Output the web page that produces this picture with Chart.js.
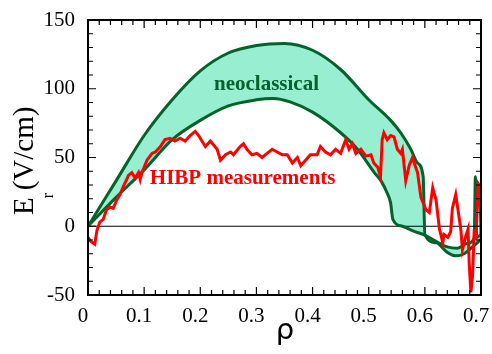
<!DOCTYPE html>
<html>
  <head>
    <title>Er profile</title>
    <style>
      html, body { margin: 0; padding: 0; background: #fff; }
      #wrap { width: 492px; height: 354px; }
    </style>
  </head>
  <body>
    <div id="wrap"><canvas id="erChart" width="492" height="354"></canvas></div>

    <script src="https://cdn.jsdelivr.net/npm/chart.js"></script>
    <script>
      // HIBP measured profile (rho, Er in V/cm)
      const rhoHibp = [
        0, 0.005, 0.012, 0.016, 0.021, 0.027, 0.033, 0.039, 0.045, 0.051,
        0.057, 0.063, 0.069, 0.072, 0.078, 0.084, 0.09, 0.093, 0.096, 0.105,
        0.114, 0.12, 0.129, 0.137, 0.146, 0.155, 0.164, 0.173, 0.182, 0.191,
        0.197, 0.209, 0.218, 0.23, 0.236, 0.245, 0.254, 0.259, 0.271, 0.277,
        0.283, 0.292, 0.301, 0.31, 0.319, 0.328, 0.337, 0.346, 0.355, 0.364,
        0.373, 0.379, 0.3875, 0.396, 0.408, 0.414, 0.423, 0.432, 0.441, 0.45,
        0.459, 0.465, 0.471, 0.477, 0.486, 0.495, 0.504, 0.509, 0.516, 0.521,
        0.524, 0.527, 0.533, 0.539, 0.545, 0.551, 0.557, 0.56, 0.566, 0.572,
        0.578, 0.581, 0.587, 0.593, 0.596, 0.602, 0.608, 0.614, 0.62, 0.626,
        0.632, 0.634, 0.641, 0.646, 0.649, 0.655, 0.659, 0.664, 0.667, 0.673,
        0.677, 0.679, 0.682, 0.685, 0.688, 0.691, 0.695, 0.698, 0.7
      ];
      const erHibp = [
        -8, -11, -13, -3, 3, 5, 12, 14, 13, 19,
        23, 29, 34, 37, 39, 35, 39, 34, 39, 48,
        53, 54, 58, 63, 64, 62, 64, 62, 66, 69,
        66, 58, 62, 56, 48, 52, 54, 52, 58, 60,
        56, 52, 53, 50, 53, 56, 54, 52, 52, 46,
        50, 44, 48, 52, 52, 58, 54, 52, 56, 53,
        63, 56, 60, 53, 56, 51, 52, 46, 43, 36,
        63, 68, 63, 66, 65, 56, 53, 56, 33, 44,
        50, 46, 39, 21, 18, 12, 10, 28, 19, -2,
        -12, -6, -8, -4, 13, 23, 12, -2, -17, -7,
        -2, -27, -48, -36, -2, -10, 31, 29, -7
      ];

      // neoclassical band: outer (upper) and inner (lower) boundaries
      const rhoOuter = [0, 0.05, 0.1, 0.15, 0.2, 0.25, 0.3, 0.35, 0.4, 0.45, 0.5, 0.539, 0.557, 0.575, 0.587, 0.597, 0.6, 0.62, 0.64, 0.655, 0.67, 0.685, 0.7];
      const erOuter = [0, 33, 66, 92, 113, 126, 131.5, 133, 128, 114, 92, 77, 68, 56, 46, 36, -6, -12, -19, -21.5, -20, -15, -9.5];

      const rhoInner = [0, 0.05, 0.1, 0.15, 0.2, 0.25, 0.3, 0.33, 0.36, 0.4, 0.45, 0.48, 0.51, 0.522, 0.533, 0.539, 0.543, 0.56, 0.58, 0.6, 0.62, 0.64, 0.658, 0.675, 0.688, 0.69, 0.692, 0.7];
      const erInner = [0, 21, 41, 63, 77, 87.5, 92, 93, 90.5, 83, 68, 56, 39, 33, 24, 17, 5, 0, -3.5, -6.5, -11, -15, -16, -12.5, -8.5, 36, -8, -6];

      const yTicks = [-50, 0, 50, 100, 150];

      const toPts = (xs, ys) => xs.map((x, i) => ({ x: x, y: ys[i] }));

      const darkGreen = "#05622a";
      const bandFill = "rgb(152, 238, 208)";

      // frame, inward ticks, zero line, annotations, axis titles
      const decor = {
        id: "decor",
        beforeDatasetsDraw(chart) {
          const { ctx, chartArea: a, scales } = chart;
          const y0 = scales.y.getPixelForValue(0);
          ctx.save();
          ctx.strokeStyle = "#000";
          ctx.lineWidth = 1.1;
          ctx.beginPath();
          ctx.moveTo(a.left, y0);
          ctx.lineTo(a.right, y0);
          ctx.stroke();
          ctx.restore();
        },
        afterDatasetsDraw(chart) {
          const { ctx, chartArea: a, scales } = chart;
          const xs = scales.x, ys = scales.y;
          ctx.save();
          ctx.strokeStyle = "#000";
          ctx.lineWidth = 1.2;
          ctx.beginPath();
          // x ticks every 0.02, major every 0.1
          for (let i = 0; i <= 35; i++) {
            const px = xs.getPixelForValue(i * 0.02);
            const len = i % 5 === 0 ? 8 : 5;
            ctx.moveTo(px, a.bottom);
            ctx.lineTo(px, a.bottom - len);
            ctx.moveTo(px, a.top);
            ctx.lineTo(px, a.top + len);
          }
          // y ticks every 10, major every 50
          for (let v = -50; v <= 150; v += 10) {
            const py = ys.getPixelForValue(v);
            const len = v % 50 === 0 ? 8 : 5;
            ctx.moveTo(a.left, py);
            ctx.lineTo(a.left + len, py);
            ctx.moveTo(a.right, py);
            ctx.lineTo(a.right - len, py);
          }
          ctx.stroke();
          ctx.lineWidth = 2;
          ctx.strokeRect(a.left, a.top, a.right - a.left, a.bottom - a.top);

          // annotations
          ctx.font = 'bold 21px "Liberation Serif"';
          ctx.textAlign = "center";
          ctx.textBaseline = "alphabetic";
          ctx.fillStyle = darkGreen;
          ctx.fillText("neoclassical", xs.getPixelForValue(0.318), ys.getPixelForValue(99));
          ctx.fillStyle = "#ff0000";
          ctx.fillText("HIBP measurements", xs.getPixelForValue(0.2755), ys.getPixelForValue(31));

          // x title
          ctx.fillStyle = "#000";
          ctx.font = '29px "DejaVu Sans"';
          ctx.fillText("ρ", 285, 339);

          // y title, rotated, with subscript r
          ctx.translate(33, 215);
          ctx.rotate(-Math.PI / 2);
          ctx.textAlign = "left";
          ctx.font = '29px "Liberation Serif"';
          ctx.fillText("E", 0, 0);
          const wE = ctx.measureText("E").width;
          ctx.fillText("(V/cm)", wE + 7, 0);
          ctx.font = '16px "Liberation Serif"';
          ctx.fillText("r", wE - 1, 20);
          ctx.restore();
        }
      };

      new Chart(document.getElementById("erChart"), {
        type: "line",
        data: {
          datasets: [
            {
              label: "HIBP measurements",
              data: toPts(rhoHibp, erHibp),
              borderColor: "#ff0000",
              borderWidth: 3,
              pointRadius: 0,
              tension: 0,
              fill: false
            },
            {
              label: "neoclassical outer",
              data: toPts(rhoOuter, erOuter),
              borderColor: darkGreen,
              borderWidth: 3,
              pointRadius: 0,
              cubicInterpolationMode: "monotone",
              fill: "+1",
              backgroundColor: bandFill
            },
            {
              label: "neoclassical inner",
              data: toPts(rhoInner, erInner),
              borderColor: darkGreen,
              borderWidth: 3,
              pointRadius: 0,
              cubicInterpolationMode: "monotone",
              fill: false
            }
          ]
        },
        options: {
          responsive: false,
          animation: false,
          events: [],
          layout: { padding: { top: 20, right: 11, left: 0, bottom: 0 } },
          plugins: {
            legend: { display: false },
            tooltip: { enabled: false },
            filler: { drawTime: "beforeDatasetsDraw" }
          },
          scales: {
            x: {
              type: "linear",
              min: 0,
              max: 0.7,
              grid: { display: false, drawTicks: false },
              border: { display: false },
              ticks: {
                stepSize: 0.1,
                padding: 9,
                labelOffset: -5,
                color: "#000",
                font: { family: "Liberation Serif", size: 21 },
                maxRotation: 0
              },
              afterFit(scale) {
                scale.height = 59;
                scale.paddingLeft = 0;
                scale.paddingRight = 0;
              }
            },
            y: {
              min: -50,
              max: 150,
              grid: { display: false, drawTicks: false },
              border: { display: false },
              afterBuildTicks(scale) {
                scale.ticks = yTicks.map((v) => ({ value: v }));
              },
              ticks: {
                padding: 13,
                color: "#000",
                font: { family: "Liberation Serif", size: 21 }
              },
              afterFit(scale) {
                scale.width = 88;
                scale.paddingTop = 0;
                scale.paddingBottom = 0;
              }
            }
          }
        },
        plugins: [decor]
      });
    </script>
  </body>
</html>
